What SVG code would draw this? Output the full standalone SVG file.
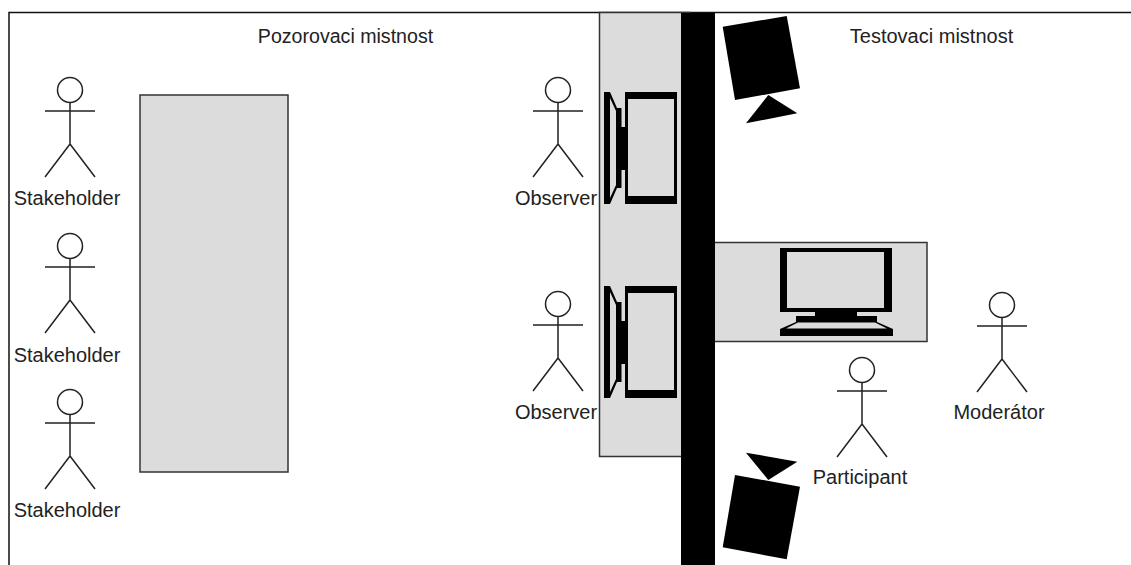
<svg xmlns="http://www.w3.org/2000/svg" xmlns:xlink="http://www.w3.org/1999/xlink" width="1131" height="565" viewBox="0 0 1131 565">
<style>
text{font-family:"Liberation Sans",Arial,sans-serif;font-size:20px;fill:#222;text-anchor:middle}
.box{fill:#dcdcdc;stroke:#333;stroke-width:1.5}
.fr{fill:none;stroke:#111;stroke-width:1.5}
.act{fill:none;stroke:#222;stroke-width:1.5}
.blk{fill:#000}
.scr{fill:#dcdcdc}
</style>
<defs>
<g id="actor" class="act"><circle cx="0" cy="0" r="12.5" fill="#fff"/><path d="M0 13V54M-25 21H25M0 54L-25 87M0 54L25 87"/></g>
<g id="sidemon"><path class="blk" d="M604 92H610L617 108H621.500V127H625V92H677V204H625V170H621.500V188H617L610 204H604Z"/><path class="scr" d="M628 99H674V196H628Z"/><path class="scr" d="M610 98L616 111V185L610 198Z"/></g>
</defs>
<rect width="1131" height="565" fill="#fff"/>
<g id="frame"><path class="fr" d="M9 565V12.500H1131"/></g>
<g id="table"><rect class="box" x="140" y="95" width="148" height="377"/></g>
<g id="observer-desk"><rect class="box" x="599.500" y="12.500" width="90" height="444"/></g>
<g id="test-desk"><rect class="box" x="700" y="242.500" width="227" height="99"/></g>
<g id="wall"><rect class="blk" x="681" y="13" width="34" height="552"/></g>
<g id="monitor-1"><use xlink:href="#sidemon" href="#sidemon"/></g>
<g id="monitor-2"><use xlink:href="#sidemon" href="#sidemon" y="194"/></g>
<g id="monitor-3"><path class="blk" d="M780 248H892V312H857V316H877V322L893 329V336H780V329L796 322V316H815V312H780Z"/><path class="scr" d="M787 252H884V308H787Z"/><path class="scr" d="M798 322.500H875L887 328.500H786Z"/></g>
<g id="camera-1"><path class="blk" d="M722.700 26.700L786.700 16L800 88.300L735 100Z"/><path class="blk" d="M768.300 95L797.300 113.300L746 123.300Z"/></g>
<g id="camera-2"><path class="blk" d="M735 475L800 486.700L786.700 559.300L722.700 547.300Z"/><path class="blk" d="M746 452.700L797.300 461.700L768.300 480Z"/></g>
<g id="stakeholder-1"><use xlink:href="#actor" href="#actor" x="70" y="90"/><text x="67" y="205">Stakeholder</text></g>
<g id="stakeholder-2"><use xlink:href="#actor" href="#actor" x="70" y="246"/><text x="67" y="362">Stakeholder</text></g>
<g id="stakeholder-3"><use xlink:href="#actor" href="#actor" x="70" y="402"/><text x="67" y="517">Stakeholder</text></g>
<g id="observer-1"><use xlink:href="#actor" href="#actor" x="558" y="90"/><text x="556" y="205">Observer</text></g>
<g id="observer-2"><use xlink:href="#actor" href="#actor" x="558" y="304"/><text x="556" y="419">Observer</text></g>
<g id="participant"><use xlink:href="#actor" href="#actor" x="862" y="370"/><text x="860" y="484">Participant</text></g>
<g id="moderator"><use xlink:href="#actor" href="#actor" x="1002" y="305"/><text x="999" y="419">Moderátor</text></g>
<g id="labels"><text x="345.500" y="43" font-size="19.600" style="font-size:19.600px">Pozorovaci mistnost</text><text x="931.500" y="43">Testovaci mistnost</text></g>
</svg>
